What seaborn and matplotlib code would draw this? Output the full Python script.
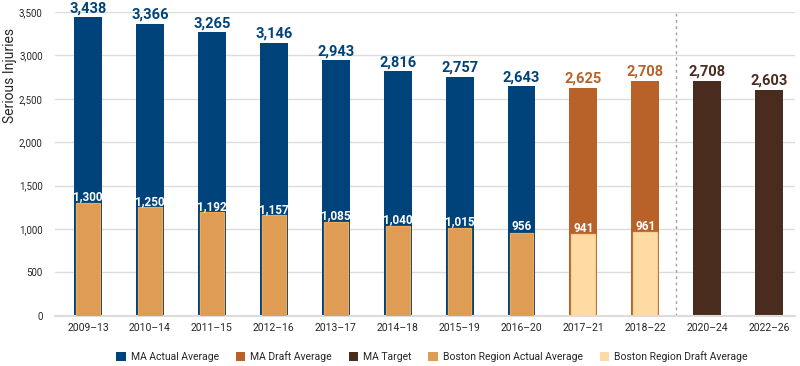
import matplotlib
matplotlib.use("Agg")
import matplotlib.pyplot as plt
from matplotlib.patches import Patch
import seaborn as sns
import pandas as pd

periods = ["2009–13", "2010–14", "2011–15", "2012–16", "2013–17", "2014–18",
           "2015–19", "2016–20", "2017–21", "2018–22", "2020–24", "2022–26"]
ma_values = [3438, 3366, 3265, 3146, 2943, 2816, 2757, 2643, 2625, 2708, 2708, 2603]
ma_kind = ["actual"] * 8 + ["draft"] * 2 + ["target"] * 2
boston_periods = periods[:10]
boston_values = [1300, 1250, 1192, 1157, 1085, 1040, 1015, 956, 941, 961]
boston_kind = ["actual"] * 8 + ["draft"] * 2

ma_colors = {"actual": "#00427a", "draft": "#b8622a", "target": "#4a2c1e"}
boston_colors = {"actual": "#de9c54", "draft": "#fddba3"}
boston_edges = {"actual": "#f2a94f", "draft": "#f7cf92"}

sns.set_theme(style="white")
plt.rcParams["font.family"] = ["Roboto", "DejaVu Sans"]

fig = plt.figure(figsize=(8, 3.66), dpi=100)
ax = fig.add_axes([0.069, 0.137, 0.925, 0.830])

df_ma = pd.DataFrame({"period": periods, "value": ma_values, "kind": ma_kind})
df_b = pd.DataFrame({"period": boston_periods, "value": boston_values, "kind": boston_kind})

sns.barplot(data=df_ma, x="period", y="value", hue="period", order=periods,
            palette=[ma_colors[k] for k in ma_kind], width=0.45, legend=False,
            saturation=1, ax=ax, linewidth=0, zorder=2)
sns.barplot(data=df_b, x="period", y="value", hue="period", order=periods,
            hue_order=boston_periods,
            palette=[boston_colors[k] for k in boston_kind], width=0.385, legend=False,
            saturation=1, ax=ax, linewidth=0, zorder=3)

nma = len(ma_values)
for i, p in enumerate(ax.patches):
    if i >= nma and p.get_height() > 0:
        idx = i - nma
        if idx < len(boston_kind):
            p.set_edgecolor(boston_edges[boston_kind[idx]])
            p.set_linewidth(0.9)

# value labels
for i, v in enumerate(ma_values):
    ax.text(i, v + 25, f"{v:,}", ha="center", va="bottom", color=ma_colors[ma_kind[i]],
            fontsize=10.5, fontweight="bold", clip_on=False, zorder=5)
for i, v in enumerate(boston_values):
    ax.text(i, v - 5, f"{v:,}", ha="center", va="bottom", color="white",
            fontsize=8.5, fontweight="bold", zorder=5)

ax.axvline(9.5, color="#a0a0a0", linestyle=(0, (2, 2.5)), linewidth=1, zorder=1)

ax.set_ylim(0, 3500)
ax.set_xlim(-0.53, 11.42)
ax.set_yticks(range(0, 3501, 500))
ax.set_yticklabels([f"{t:,}" for t in range(0, 3501, 500)], fontsize=7)
ax.set_xticks(range(len(periods)))
ax.set_xticklabels(periods, fontsize=7.5)
ax.tick_params(axis="both", length=0, pad=5)
ax.tick_params(axis="y", pad=9)
ax.yaxis.grid(True, color="#dcdcdc", linewidth=1, zorder=0)
ax.set_axisbelow(True)
for s in ["top", "right", "left"]:
    ax.spines[s].set_visible(False)
ax.spines["bottom"].set_color("#dcdcdc")
ax.spines["bottom"].set_linewidth(1.5)
ax.set_xlabel("")
ax.set_ylabel("Serious Injuries", fontsize=10)
ax.yaxis.set_label_coords(-0.051, 0.79)

handles = [
    Patch(facecolor=ma_colors["actual"], edgecolor="none", label="MA Actual Average"),
    Patch(facecolor=ma_colors["draft"], edgecolor="none", label="MA Draft Average"),
    Patch(facecolor=ma_colors["target"], edgecolor="none", label="MA Target"),
    Patch(facecolor=boston_colors["actual"], edgecolor="none", label="Boston Region Actual Average"),
    Patch(facecolor=boston_colors["draft"], edgecolor="none", label="Boston Region Draft Average"),
]
fig.legend(handles=handles, loc="center", bbox_to_anchor=(0.54, 0.025), ncol=5,
           frameon=False, fontsize=7.5, handlelength=0.9, handleheight=0.9,
           handletextpad=0.5, columnspacing=1.6, borderaxespad=0, borderpad=0)

fig.savefig("out.png", dpi=100)
